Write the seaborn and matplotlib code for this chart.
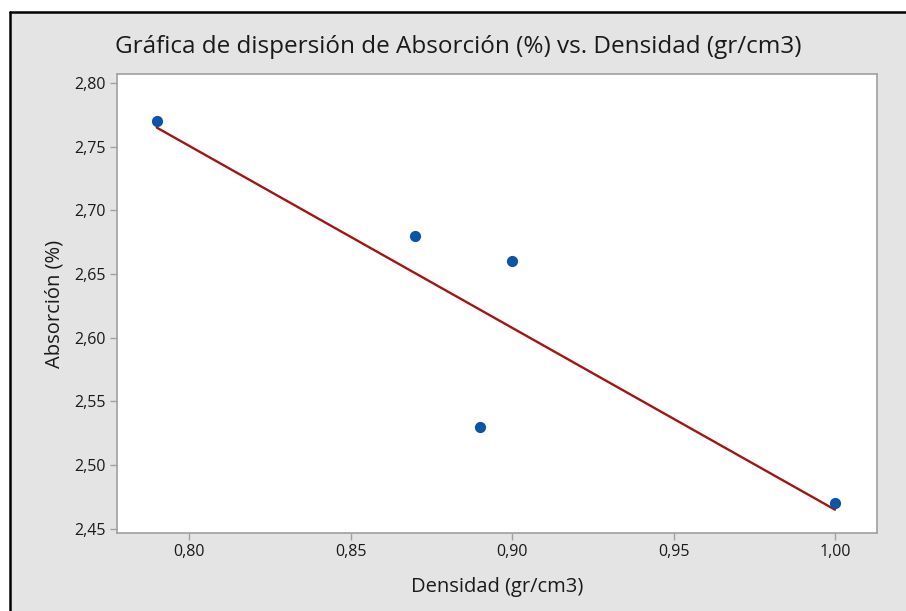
import numpy as np
import pandas as pd
import seaborn as sns
import matplotlib.pyplot as plt
from matplotlib.patches import Rectangle
from matplotlib.lines import Line2D
from matplotlib.ticker import FuncFormatter

densidad = [0.79, 0.87, 0.89, 0.90, 1.00]
absorcion = [2.77, 2.68, 2.53, 2.66, 2.47]
xticks = [0.80, 0.85, 0.90, 0.95, 1.00]
yticks = [2.45, 2.50, 2.55, 2.60, 2.65, 2.70, 2.75, 2.80]

df = pd.DataFrame({'Densidad (gr/cm3)': densidad, 'Absorción (%)': absorcion})

sns.set_style('white')
plt.rcParams['font.family'] = ['Open Sans', 'DejaVu Sans']

fig = plt.figure(figsize=(9.06, 6.11), dpi=100, facecolor='white')
# fondo gris con borde negro arriba e izquierda
fig.add_artist(Rectangle((10/906, 0), 1, 1 - 12/611, transform=fig.transFigure,
                         facecolor='#e4e4e4', edgecolor='none', zorder=0))
fig.add_artist(Line2D([10/906, 10/906], [0, 1 - 12/611], transform=fig.transFigure,
                      color='black', lw=1.8))
fig.add_artist(Line2D([10/906, 1], [1 - 12/611, 1 - 12/611], transform=fig.transFigure,
                      color='black', lw=1.8))

ax = fig.add_axes([117/906, 78/611, (877-117)/906, (533-74)/611])
ax.set_facecolor('white')

sns.regplot(data=df, x='Densidad (gr/cm3)', y='Absorción (%)', ci=None, ax=ax,
            scatter_kws={'s': 65, 'color': '#0b55a6', 'alpha': 1, 'zorder': 3, 'linewidths': 0},
            line_kws={'color': '#a31515', 'lw': 1.7, 'zorder': 2})

ax.set_xlim(0.7777, 1.013)
ax.set_ylim(2.4465, 2.807)
ax.set_xticks(xticks)
ax.set_yticks(yticks)
fmt = FuncFormatter(lambda v, p: ('%.2f' % v).replace('.', ','))
ax.xaxis.set_major_formatter(fmt)
ax.yaxis.set_major_formatter(fmt)
ax.tick_params(axis='both', direction='out', length=5, width=1, color='#a0a0a0',
               labelsize=11.5, labelcolor='#1a1a1a', pad=3, bottom=True, left=True)
for s in ax.spines.values():
    s.set_color('#a0a0a0')
    s.set_linewidth(1.2)

ax.set_xlabel('Densidad (gr/cm3)', fontsize=14.5, color='#1a1a1a', labelpad=12)
ax.set_ylabel('Absorción (%)', fontsize=14.5, color='#1a1a1a', labelpad=7)
fig.text(0.5 + 5/906, 1 - 47/611, 'Gráfica de dispersión de Absorción (%) vs. Densidad (gr/cm3)',
         ha='center', va='center', fontsize=17.5, color='#1a1a1a')

fig.savefig('out.png', dpi=100, facecolor='white')
